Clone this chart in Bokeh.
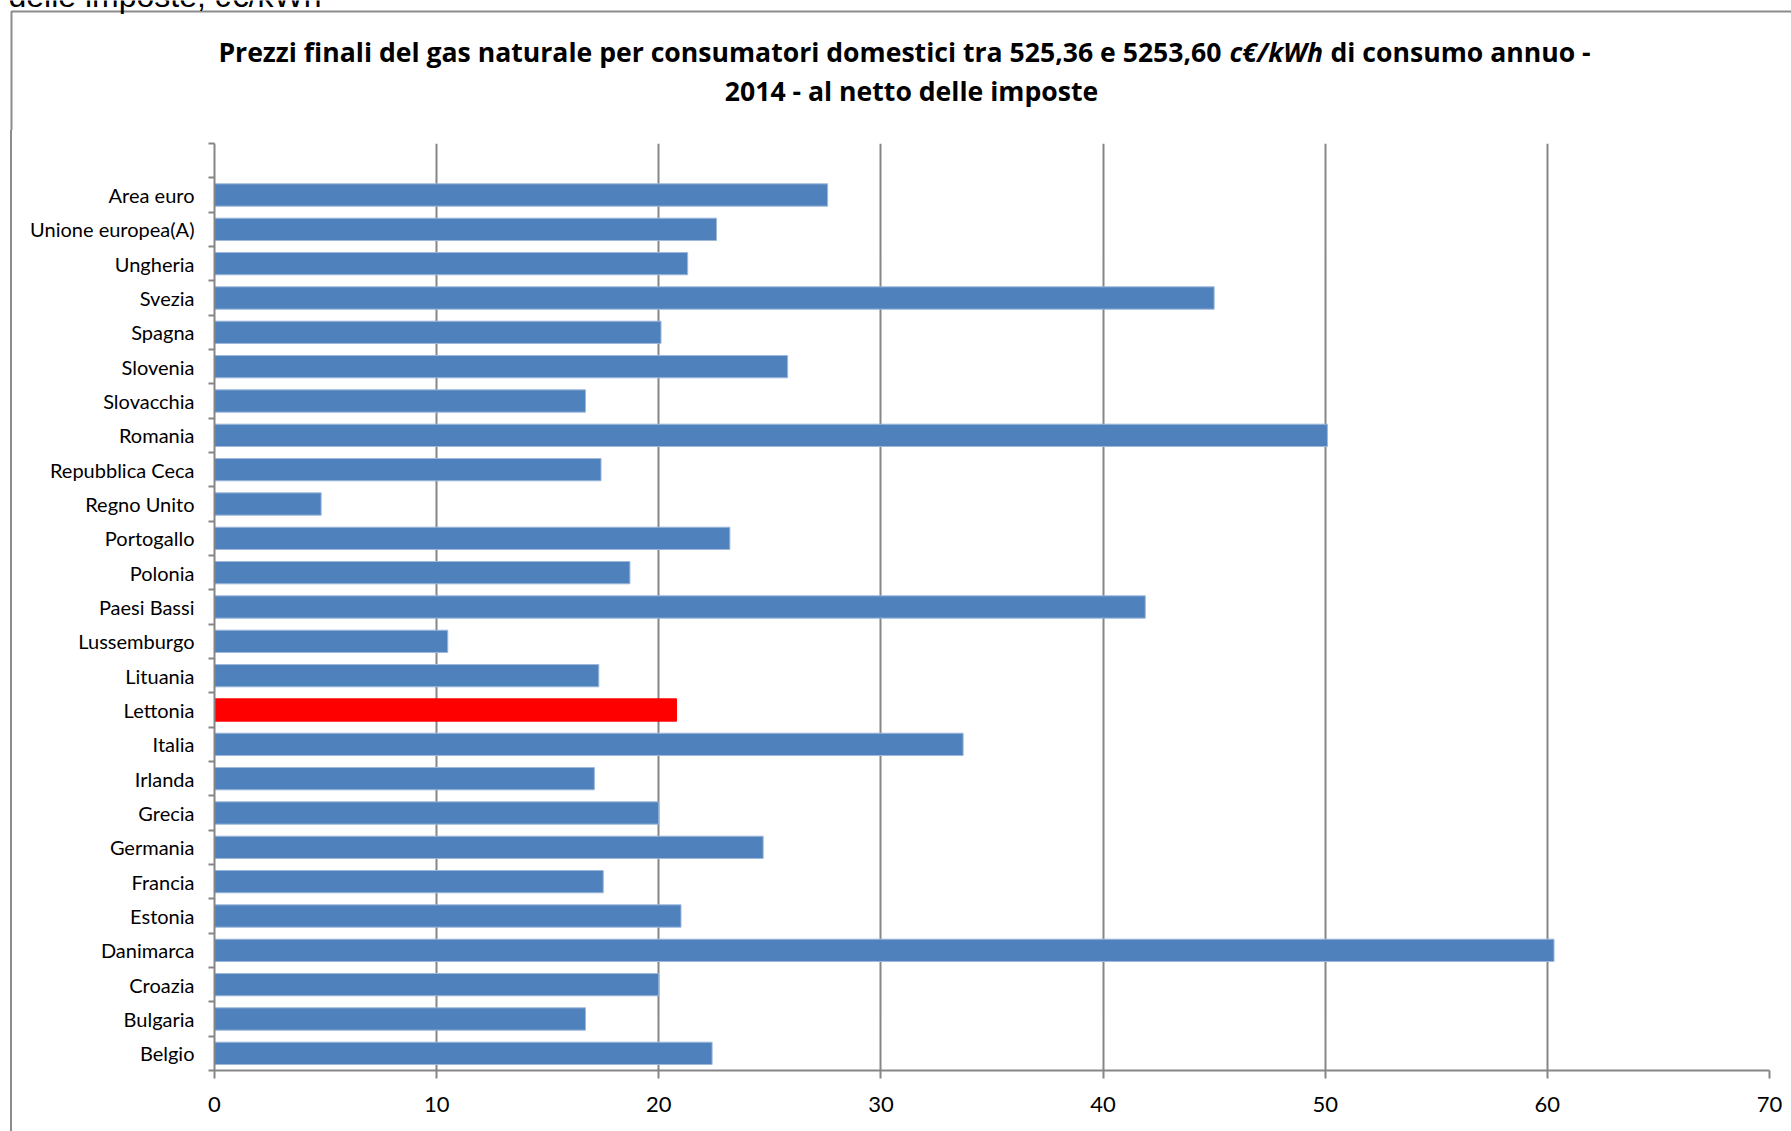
from bokeh.plotting import figure
from bokeh.models import Range1d, FixedTicker, ColumnDataSource, Spacer
from bokeh.layouts import column, row
from bokeh.core.properties import value
from bokeh.embed import file_html
from bokeh.resources import INLINE

# ---- data (bottom-to-top, as plotted) ----
countries = ["Belgio", "Bulgaria", "Croazia", "Danimarca", "Estonia", "Francia",
             "Germania", "Grecia", "Irlanda", "Italia", "Lettonia", "Lituania",
             "Lussemburgo", "Paesi Bassi", "Polonia", "Portogallo", "Regno Unito",
             "Repubblica Ceca", "Romania", "Slovacchia", "Slovenia", "Spagna",
             "Svezia", "Ungheria", "Unione europea(A)", "Area euro"]
prices = [22.4, 16.7, 20.0, 60.3, 21.0, 17.5,
          24.7, 20.0, 17.1, 33.7, 20.8, 17.3,
          10.5, 41.9, 18.7, 23.2, 4.8,
          17.4, 50.1, 16.7, 25.8, 20.1,
          45.0, 21.3, 22.6, 27.6]
highlight = "Lettonia"
x_ticks = [0, 10, 20, 30, 40, 50, 60, 70]

title_line1_a = "Prezzi finali del gas naturale per consumatori domestici tra 525,36 e 5253,60"
title_unit = "c€/kWh"
title_line1_b = "di consumo annuo -"
title_line2 = "2014 - al netto delle imposte"
top_text = "delle imposte, c€/kWh"

# ---- layout constants (page pixels) ----
W, H = 1791, 1131
HEAD = 130            # header strip height
STRIP = 12            # left strip holding the chart-area border
L, R, T, B = 214, 1769, 143, 1070
GRAY = "#868686"
BORDER = "#8C8C8C"
FONT = "Lato"
TFONT = "Open Sans"


def blank(width, height):
    f = figure(width=width, height=height, x_range=Range1d(0, width), y_range=Range1d(height, 0),
               output_backend="svg", toolbar_location=None, x_axis_type=None, y_axis_type=None,
               min_border=0)
    f.outline_line_color = None
    f.grid.grid_line_color = None
    f.background_fill_color = "white"
    f.border_fill_color = "white"
    return f


# ---- header: texts + top part of chart-area border ----
head = blank(W, HEAD)
head.line(x=[11, 11, W], y=[HEAD, 11, 11], line_color=BORDER, line_width=2)
tkw = dict(text_baseline="middle", text_font=value(TFONT), text_font_size="26.6px", text_color="black")
head.text(x=[1221], y=[51], text=[title_line1_a], text_align="right", text_font_style="bold", **tkw)
head.text(x=[1229], y=[51], text=[title_unit], text_align="left", text_font_style="bold italic", **tkw)
head.text(x=[1330], y=[51], text=[title_line1_b], text_align="left", text_font_style="bold", **tkw)
head.text(x=[911], y=[90], text=[title_line2], text_align="center", text_font_style="bold", **tkw)
head.text(x=[8], y=[-5], text=[top_text], text_align="left", text_baseline="alphabetic",
          text_font=value("Liberation Sans"), text_font_size="32px", text_color="black")

# ---- left strip: chart-area border (css border, not a plot) ----
strip = Spacer(width=STRIP, height=H - HEAD,
               styles={"border-right": f"2px solid {BORDER}", "box-sizing": "border-box",
                       "background-color": "white"})

# ---- main chart ----
n = len(countries)
slots = n + 1
ys = [i + 0.5 for i in range(n)]
fills = ["#FF0000" if c == highlight else "#4F81BD" for c in countries]
lines = ["#FF0000" if c == highlight else "#9DB8DB" for c in countries]
src = ColumnDataSource(dict(y=ys, v=prices, name=countries, fill=fills, line=lines))

p = figure(width=W - STRIP, height=H - HEAD, x_range=Range1d(0, x_ticks[-1]), y_range=Range1d(0, slots),
           output_backend="svg", toolbar_location=None,
           min_border_left=L - STRIP, min_border_right=W - R, min_border_top=T - HEAD,
           min_border_bottom=H - B)
p.outline_line_color = None
p.background_fill_color = "white"
p.border_fill_color = "white"

p.hbar(y="y", left=0, right="v", height=0.65, fill_color="fill", line_color="line",
       line_width=1, source=src)

p.xaxis.ticker = FixedTicker(ticks=x_ticks)
p.xaxis.axis_line_color = GRAY
p.xaxis.axis_line_width = 2
p.xaxis.major_tick_line_color = GRAY
p.xaxis.major_tick_line_width = 2
p.xaxis.major_tick_out = 8
p.xaxis.major_tick_in = 0
p.xaxis.minor_tick_line_color = None
p.xaxis.major_label_text_font = FONT
p.xaxis.major_label_text_font_size = "22px"
p.xaxis.major_label_text_color = "black"
p.xaxis.major_label_standoff = 18

p.xgrid.ticker = FixedTicker(ticks=x_ticks)
p.xgrid.grid_line_color = GRAY
p.xgrid.grid_line_width = 2
p.ygrid.grid_line_color = None

p.yaxis.ticker = FixedTicker(ticks=ys, minor_ticks=list(range(slots + 1)))
p.yaxis.axis_line_color = GRAY
p.yaxis.axis_line_width = 2
p.yaxis.major_tick_line_color = None
p.yaxis.major_tick_out = 0
p.yaxis.major_tick_in = 0
p.yaxis.minor_tick_line_color = GRAY
p.yaxis.minor_tick_line_width = 2
p.yaxis.minor_tick_out = 6
p.yaxis.minor_tick_in = 0
p.yaxis.major_label_overrides = {y: c for y, c in zip(ys, countries)}
p.yaxis.major_label_text_font = FONT
p.yaxis.major_label_text_font_size = "20px"
p.yaxis.major_label_text_color = "black"
p.yaxis.major_label_standoff = 14

layout = column(head, row(strip, p, spacing=0), spacing=0)
open("out.html", "w").write(file_html(layout, INLINE))
